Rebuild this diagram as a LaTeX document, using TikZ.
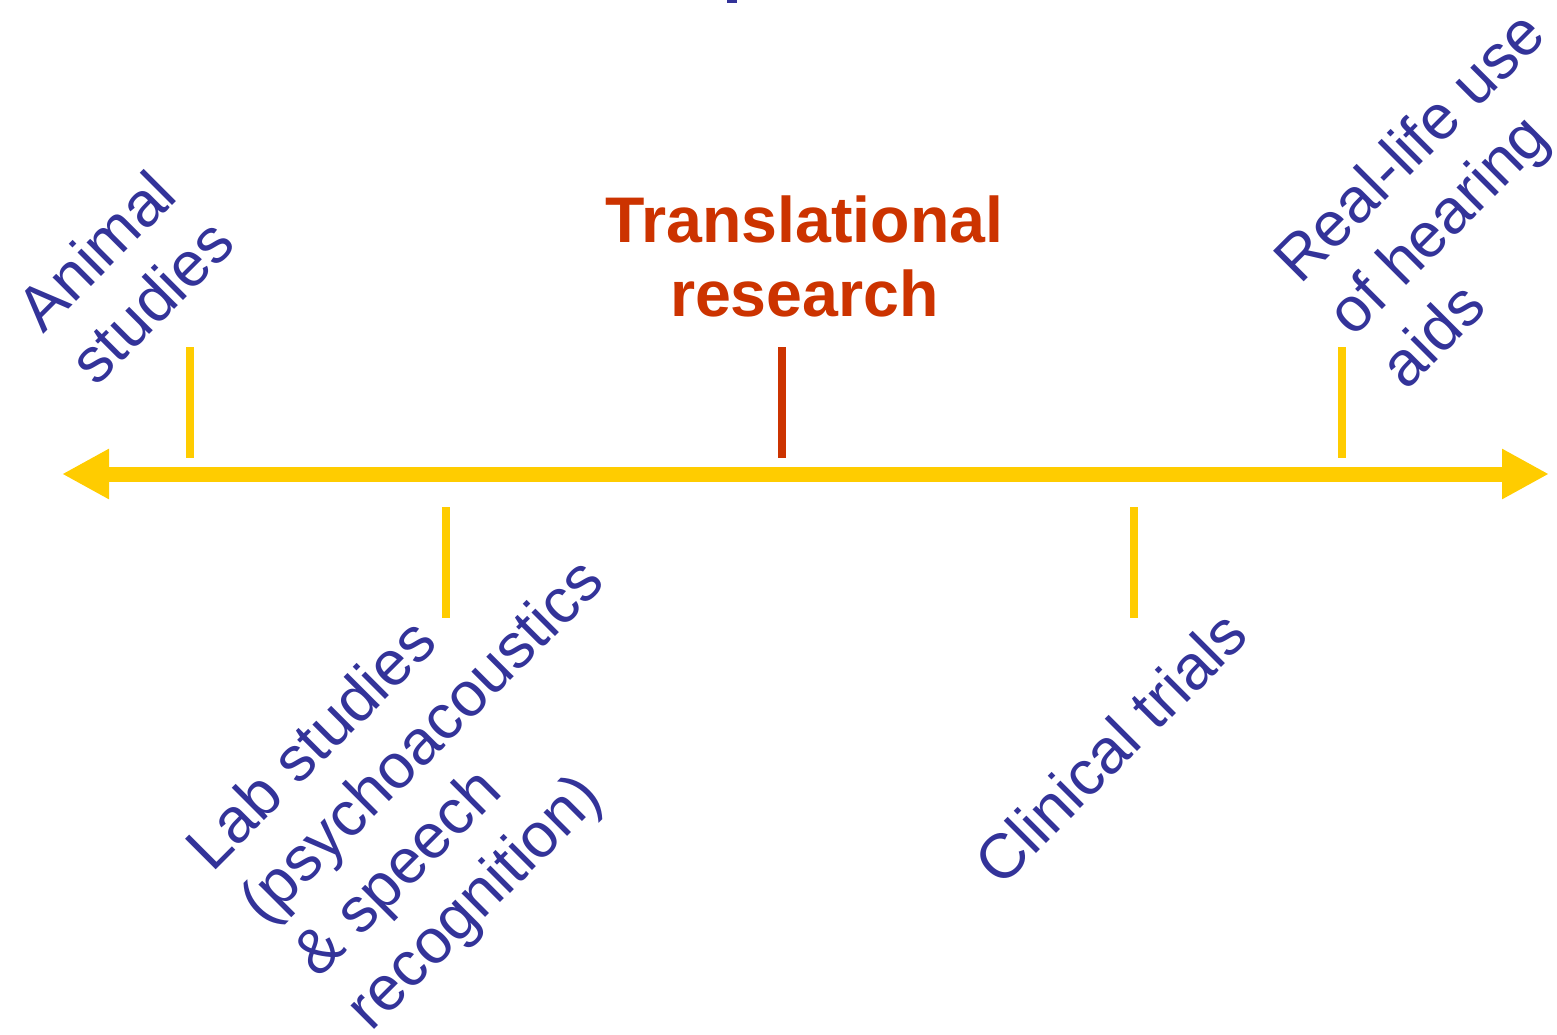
\documentclass[tikz,border=0pt]{standalone}
\usepackage{fontspec}
\setmainfont{Liberation Sans}
\usetikzlibrary{arrows.meta}
\definecolor{labelblue}{HTML}{333399}
\definecolor{labelred}{HTML}{CC3300}
\definecolor{axisyellow}{HTML}{FFCC00}
\tikzset{
  axisline/.style={draw=axisyellow, line width=15pt,
    {Triangle[length=47pt,width=47pt]}-{Triangle[length=47pt,width=47pt]}},
  ticky/.style={draw=axisyellow, line width=8pt},
  tickr/.style={draw=labelred, line width=8pt},
  steplabel/.style={text=labelblue, rotate=45, align=left, inner sep=0pt,
    anchor=north west, font=\fontsize{63}{75}\selectfont},
  redlabel/.style={text=labelred, align=center, inner sep=0pt,
    anchor=north, font=\bfseries\fontsize{64.5}{74}\selectfont},
}
\begin{document}
\begin{tikzpicture}[x=1pt,y=-1pt]
\useasboundingbox (0,0) rectangle (1557,1034);
% clipped fragment at top
\fill[labelblue] (727,0) rectangle (737,3);
% axis
\coordinate (L) at (62,474);
\coordinate (R) at (1549,474);
\draw[axisline] (L) -- (R);
% ticks
\coordinate (a1) at (190,347); \coordinate (a2) at (190,458);
\coordinate (t1) at (782,347); \coordinate (t2) at (782,458);
\coordinate (r1) at (1342,347); \coordinate (r2) at (1342,458);
\coordinate (l1) at (446,507); \coordinate (l2) at (446,618);
\coordinate (c1) at (1134,507); \coordinate (c2) at (1134,618);
\draw[ticky] (a1) -- (a2);
\draw[tickr] (t1) -- (t2);
\draw[ticky] (r1) -- (r2);
\draw[ticky] (l1) -- (l2);
\draw[ticky] (c1) -- (c2);
% labels
\node[redlabel] (trans) at (804.5,196) {Translational\\research};
\node[steplabel] (animal) at (11,302) {Animal\\studies};
\node[steplabel] (lab) at (179.5,841) {Lab studies\\(psychoacoustics\\\& speech\\recognition)};
\node[steplabel] (clin) at (968.5,856) {Clinical trials};
\node[steplabel] (real) at (1268,253) {Real-life use\\of hearing\\aids};
\end{tikzpicture}
\end{document}
